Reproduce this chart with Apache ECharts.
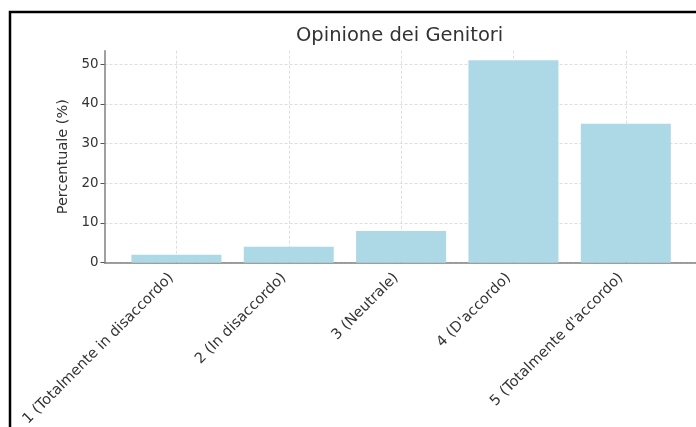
<!DOCTYPE html>
<html>
<head>
<meta charset="utf-8">
<script src="https://cdn.jsdelivr.net/npm/echarts@6/dist/echarts.min.js"></script>
<style>
html,body{margin:0;padding:0;background:#fff;}
#chart{width:696px;height:427px;}
</style>
</head>
<body>
<div id="chart"></div>
<script>
var titleText = 'Opinione dei Genitori';
var yAxisName = 'Percentuale (%)';
var categories = ['1 (Totalmente in disaccordo)', '2 (In disaccordo)', '3 (Neutrale)', '4 (D\'accordo)', '5 (Totalmente d\'accordo)'];
var values = [2, 4, 8, 51, 35];
var yTicks = [0, 10, 20, 30, 40, 50];

var catIdx = categories.map(function (c, i) { return i; });
var barData = values.map(function (v, i) { return [i, v]; });

var chart = echarts.init(document.getElementById('chart'), null, {renderer: 'canvas'});
var FONT = 'DejaVu Sans';
chart.setOption({
  backgroundColor: '#ffffff',
  animation: false,
  textStyle: {fontFamily: FONT},
  graphic: [{
    type: 'rect',
    shape: {x: 10, y: 12, width: 700, height: 430},
    style: {fill: 'none', stroke: '#000', lineWidth: 2.5},
    silent: true
  }],
  title: {
    text: titleText,
    left: 296,
    top: 26,
    padding: 0,
    textStyle: {fontFamily: FONT, fontSize: 19.5, fontWeight: 'normal', color: '#333'}
  },
  grid: {left: 104.5, top: 50.7, width: 593.2, height: 212, containLabel: false, outerBoundsMode: 'none'},
  xAxis: {
    type: 'value',
    min: -0.64,
    max: 4.64,
    axisLine: {show: true, onZero: false, lineStyle: {color: '#808080', width: 1.5}},
    axisTick: {show: true, inside: true, length: 4, customValues: catIdx, lineStyle: {color: '#333', width: 1}},
    axisLabel: {
      customValues: catIdx,
      rotate: 45,
      margin: 8,
      padding: [0, 7, 0, 0],
      fontSize: 14.5,
      color: '#333',
      fontFamily: FONT,
      formatter: function (v) { return categories[Math.round(v)]; }
    },
    splitLine: {show: true, lineStyle: {color: '#d6d6d6', type: [3, 2], width: 0.8}}
  },
  yAxis: {
    type: 'value',
    min: 0,
    max: 53.4,
    name: yAxisName,
    nameLocation: 'middle',
    nameGap: 24,
    nameTextStyle: {fontSize: 14.5, color: '#333', fontFamily: FONT},
    axisLine: {show: true, onZero: false, lineStyle: {color: '#808080', width: 1.5}},
    axisTick: {show: true, length: 4, customValues: yTicks, lineStyle: {color: '#555'}},
    axisLabel: {customValues: yTicks, fontSize: 13.4, color: '#333', margin: 6, fontFamily: FONT},
    splitLine: {show: true, lineStyle: {color: '#d6d6d6', type: [3, 2], width: 0.8}}
  },
  series: [{
    type: 'bar',
    data: barData,
    barWidth: 90,
    itemStyle: {color: '#add8e6'}
  }]
});
</script>
</body>
</html>
